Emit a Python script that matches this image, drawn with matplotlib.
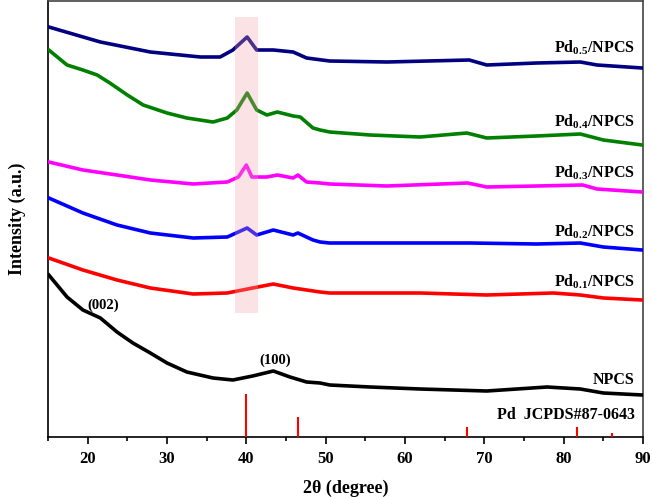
import matplotlib.pyplot as plt
from matplotlib.patches import Rectangle
from matplotlib.ticker import MultipleLocator

plt.rcParams.update({
    "font.family": "Liberation Serif",
    "font.weight": "bold",
    "mathtext.fontset": "custom",
    "mathtext.rm": "Liberation Serif:bold",
})

## DATA (intensity in arbitrary stacked units)

x_npcs = [15.1, 17.4, 19.4, 21.6, 23.7, 25.7, 27.9, 30.0, 32.5, 35.8, 38.3, 40.8, 43.4, 45.5, 47.6, 49.3, 50.5, 55.6, 61.9, 70.3, 77.9, 82.1, 85.0, 89.9]
y_npcs = [162, 140, 127, 119, 105, 94, 84, 74, 65, 59, 57, 61, 66, 60, 55, 54, 52, 50, 48, 46, 50, 48, 44, 42]

x_pd01 = [15.1, 19.4, 23.7, 27.9, 33.3, 37.6, 40.8, 43.4, 45.9, 49.3, 50.5, 61.9, 70.3, 78.7, 82.1, 85.0, 89.9]
y_pd01 = [179, 167, 157, 149, 143, 144, 149, 153, 149, 145, 144, 144, 142, 144, 142, 139, 137]

x_pd02 = [15.1, 19.4, 23.7, 27.9, 33.3, 37.6, 40.1, 41.3, 43.4, 45.9, 46.5, 48.4, 49.3, 50.5, 57.7, 68.2, 76.6, 82.1, 85.0, 89.9]
y_pd02 = [239, 224, 212, 204, 199, 200, 209, 202, 207, 202, 204, 197, 195, 194, 194, 194, 193, 194, 190, 187]

x_pd03 = [15.1, 19.4, 23.7, 27.9, 33.3, 37.6, 39.0, 40.0, 40.7, 42.6, 43.9, 45.9, 46.5, 47.6, 49.3, 50.5, 57.7, 67.9, 70.3, 76.6, 82.4, 84.2, 89.9]
y_pd03 = [275, 267, 262, 257, 253, 255, 260, 272, 260, 260, 262, 259, 262, 255, 254, 253, 251, 254, 250, 251, 252, 248, 245]

x_pd04 = [15.1, 17.4, 19.4, 21.2, 22.8, 25.0, 27.0, 30.0, 32.5, 35.8, 37.6, 38.8, 40.1, 41.3, 42.6, 43.9, 45.9, 46.8, 48.4, 49.3, 50.5, 55.6, 61.9, 67.8, 70.3, 76.6, 82.1, 85.0, 89.9]
y_pd04 = [387, 372, 367, 362, 354, 342, 332, 324, 319, 315, 319, 327, 344, 327, 322, 325, 321, 320, 309, 307, 305, 302, 300, 304, 299, 301, 303, 297, 292]

x_pd05 = [15.1, 21.6, 27.9, 34.2, 36.7, 38.3, 40.1, 41.3, 43.4, 45.9, 47.6, 50.5, 57.7, 68.1, 70.3, 76.6, 82.1, 84.2, 89.9]
y_pd05 = [410, 395, 385, 380, 380, 387, 400, 387, 387, 385, 379, 376, 375, 377, 372, 374, 375, 372, 369]

series = [
    (x_npcs, y_npcs, 'black', 'NPCS'),
    (x_pd01, y_pd01, '#ff0000', 'Pd$_{0.1}$/NPCS'),
    (x_pd02, y_pd02, '#0000ff', 'Pd$_{0.2}$/NPCS'),
    (x_pd03, y_pd03, '#ff00ff', 'Pd$_{0.3}$/NPCS'),
    (x_pd04, y_pd04, '#008000', 'Pd$_{0.4}$/NPCS'),
    (x_pd05, y_pd05, '#000080', 'Pd$_{0.5}$/NPCS'),
]
label_y = [380, 282, 232, 173, 122, 48]  # pixel rows of the labels

# Pd reference pattern (JCPDS#87-0643)
ref_pos = [40.0, 46.5, 67.8, 81.7, 86.1]
ref_int = [43, 20, 10, 10, 4]

YMAX = 436

fig = plt.figure(figsize=(6.53, 4.97), dpi=100)
ax = fig.add_axes([48 / 653, 60 / 497, 595 / 653, 436 / 497])

for (xs, ys, c, name), ly in zip(series, label_y):
    ax.plot(xs, ys, color=c, lw=2.6, zorder=3)
    ax.text(0.986, 1 - (ly - 1) / 436, name, transform=ax.transAxes,
            ha='right', va='center', fontsize=11.5, fontweight='bold')

ax.vlines(ref_pos, 0, ref_int, color='red', lw=1.5, zorder=3)
ax.text(0.986, 1 - (415 - 1) / 436, 'Pd  JCPDS#87-0643', transform=ax.transAxes,
        ha='right', va='center', fontsize=11.5, fontweight='bold')

# highlighted Pd(111) region
band = Rectangle((38.6, 124), 2.9, 296, color='#f4a0a8', alpha=0.3, lw=0, zorder=4)
ax.add_patch(band)

ax.text(22.0, 437 - 305, '(002)', ha='center', va='center', fontsize=10.5, fontweight='bold')
ax.text(43.7, 437 - 360, '(100)', ha='center', va='center', fontsize=10.5, fontweight='bold')

ax.set_xlim(15, 90)
ax.set_ylim(0, YMAX)
ax.set_yticks([])
ax.xaxis.set_major_locator(MultipleLocator(10))
ax.xaxis.set_minor_locator(MultipleLocator(5))
ax.tick_params(axis='x', which='major', length=5, width=1.2, labelsize=12, pad=5)
ax.tick_params(axis='x', which='minor', length=3, width=1.2)
for s in ax.spines.values():
    s.set_linewidth(1.2)
ax.spines['top'].set_color('#444444')
ax.spines['right'].set_color('#444444')

ax.set_xlabel('2θ (degree)', fontsize=13, fontweight='bold', labelpad=9)
ax.set_ylabel('Intensity (a.u.)', fontsize=13, fontweight='bold', labelpad=16)

plt.savefig('out.png', dpi=100)
plt.close()
